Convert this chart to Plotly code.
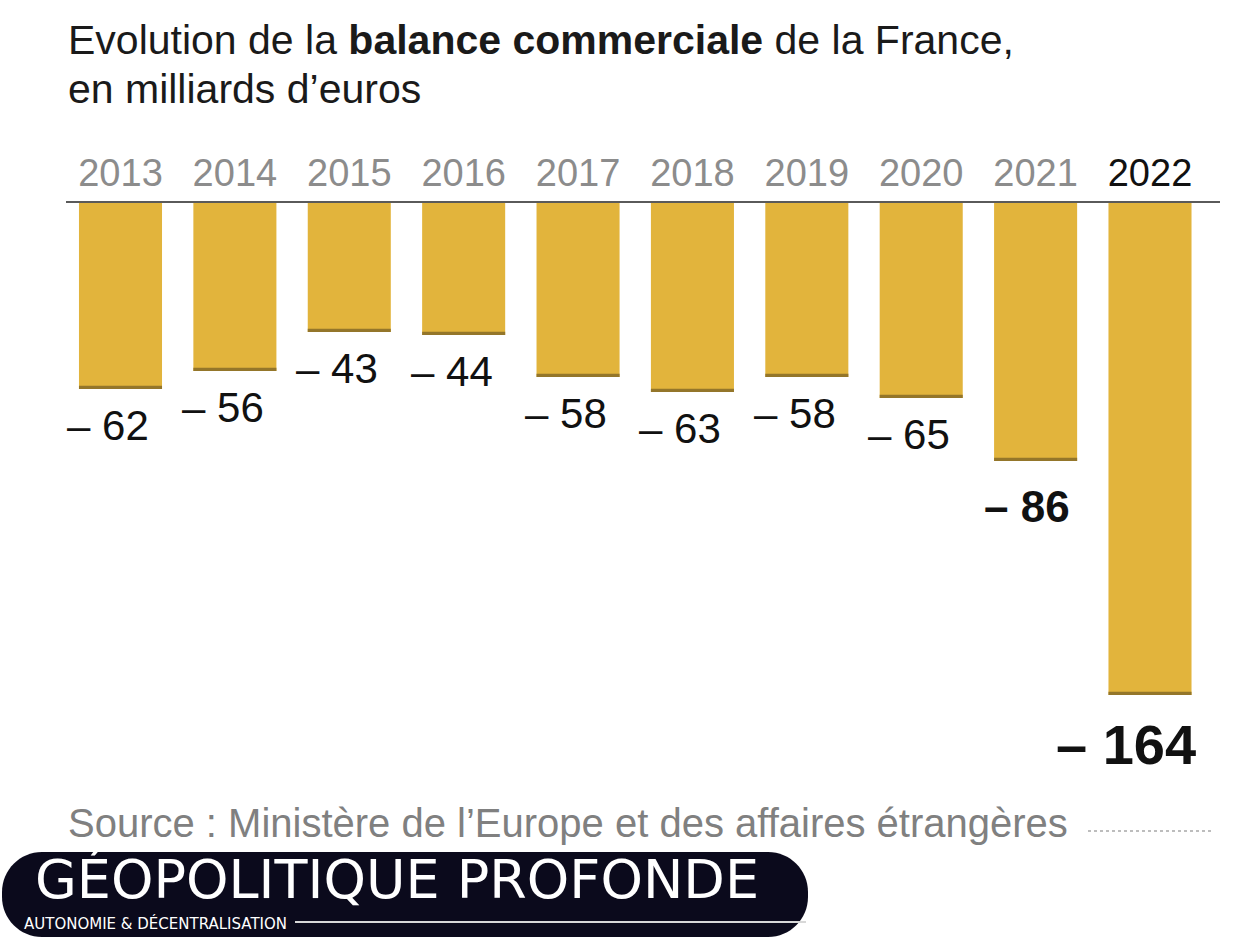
import plotly.graph_objects as go

years = ["2013", "2014", "2015", "2016", "2017", "2018", "2019", "2020", "2021", "2022"]
balance = [-62, -56, -43, -44, -58, -63, -58, -65, -86, -164]

W, H = 1251, 950
L, R, T, B = 66, 31, 203, 177
PW, PH = W - L - R, H - T - B


def px(xp):
    return (xp - L) / PW


def py(yp):
    return 1 - (yp - T) / PH


BAR = "#E2B43C"
EDGE = "#94762A"

fig = go.Figure()
fig.add_trace(go.Bar(x=years, y=balance, marker=dict(color=BAR, line=dict(width=0)),
                     width=0.726, hoverinfo="skip"))
fig.add_trace(go.Bar(x=years, y=[1.1] * len(years), base=balance,
                     marker=dict(color=EDGE, line=dict(width=0)),
                     width=0.726, hoverinfo="skip"))

ticktext = [f"<span style='color:#111111'>{y}</span>" if i == len(years) - 1 else y
            for i, y in enumerate(years)]

annotations = []
for i, v in enumerate(balance):
    strong = v < -80
    big = v < -120
    size = 56 if big else (44 if strong else 42)
    txt = f"\u2013 {abs(v)}"
    if strong:
        txt = f"<b>{txt}</b>"
    annotations.append(dict(
        x=i, y=v, xref="x", yref="y", text=txt, showarrow=False,
        xanchor="center", yanchor="middle",
        xshift=-24 if big else (-9 if strong else -12),
        yshift=-(49 if big else (45 if strong else 36)),
        font=dict(family="Liberation Sans, Arial, sans-serif", size=size, color="#111111"),
    ))

# Title
annotations.append(dict(
    x=px(66), y=py(40), xref="paper", yref="paper", xanchor="left", yanchor="middle",
    text="Evolution de la <b>balance commerciale</b> de la France,", showarrow=False,
    font=dict(family="Liberation Sans Narrow, Arial Narrow, sans-serif", size=41, color="#1a1a1a"),
))
annotations.append(dict(
    x=px(66), y=py(89), xref="paper", yref="paper", xanchor="left", yanchor="middle",
    text="en milliards d\u2019euros", showarrow=False,
    font=dict(family="Liberation Sans Narrow, Arial Narrow, sans-serif", size=41, color="#1a1a1a"),
))
# Source
annotations.append(dict(
    x=px(66), y=py(823), xref="paper", yref="paper", xanchor="left", yanchor="middle",
    text="Source : Minist\u00e8re de l\u2019Europe et des affaires \u00e9trang\u00e8res", showarrow=False,
    font=dict(family="Liberation Sans, Arial, sans-serif", size=40, color="#808080"),
))
# Logo texts
annotations.append(dict(
    x=px(33), y=py(913), xref="paper", yref="paper", xanchor="left", yanchor="bottom",
    text="G\u00c9OPOLITIQUE PROFONDE", showarrow=False,
    font=dict(family="DejaVu Sans, sans-serif", size=54, color="#ffffff"),
))
annotations.append(dict(
    x=px(22), y=py(912), xref="paper", yref="paper", xanchor="left", yanchor="top",
    text="AUTONOMIE & D\u00c9CENTRALISATION",
    showarrow=False,
    font=dict(family="DejaVu Sans, sans-serif", size=15, color="#ffffff"),
))

# Pill path (rounded rectangle) in paper coords
x0, x1, y0, y1, r = 2, 808, 852, 937, 40
k = 0.5523 * r
pts = [
    f"M {px(x0 + r)},{py(y0)}",
    f"L {px(x1 - r)},{py(y0)}",
    f"C {px(x1 - r + k)},{py(y0)} {px(x1)},{py(y0 + r - k)} {px(x1)},{py(y0 + r)}",
    f"L {px(x1)},{py(y1 - r)}",
    f"C {px(x1)},{py(y1 - r + k)} {px(x1 - r + k)},{py(y1)} {px(x1 - r)},{py(y1)}",
    f"L {px(x0 + r)},{py(y1)}",
    f"C {px(x0 + r - k)},{py(y1)} {px(x0)},{py(y1 - r + k)} {px(x0)},{py(y1 - r)}",
    f"L {px(x0)},{py(y0 + r)}",
    f"C {px(x0)},{py(y0 + r - k)} {px(x0 + r - k)},{py(y0)} {px(x0 + r)},{py(y0)}",
    "Z",
]
shapes = [
    dict(type="path", path=" ".join(pts), xref="paper", yref="paper",
         fillcolor="#0b0a1c", line=dict(width=0), layer="below"),
    dict(type="line", xref="paper", yref="paper", x0=px(295), x1=px(806), y0=py(922), y1=py(922),
         line=dict(color="#d8d8d8", width=2), layer="above"),
    dict(type="line", xref="paper", yref="paper", x0=px(1088), x1=px(1213), y0=py(831), y1=py(831),
         line=dict(color="#a8a8a8", width=1.5, dash="dot")),
]

fig.update_layout(
    width=W, height=H, margin=dict(l=L, r=R, t=T, b=B),
    paper_bgcolor="white", plot_bgcolor="rgba(0,0,0,0)",
    showlegend=False, barmode="overlay", bargap=0.274,
    annotations=annotations, shapes=shapes,
    xaxis=dict(type="category", side="top", range=[-0.4764, 9.612], showline=True,
               linecolor="#5a5a5a", linewidth=2, showgrid=False, zeroline=False,
               ticks="", tickvals=years, ticktext=ticktext, ticklabelstandoff=0,
               tickfont=dict(family="Liberation Sans, Arial, sans-serif", size=38, color="#8c8c8c"),
               fixedrange=True),
    yaxis=dict(range=[-190, 0], visible=True, showticklabels=False, showline=False,
               showgrid=False, zeroline=False, ticks="", fixedrange=True),
)

fig.write_html("out.html", config={"displayModeBar": False},
               post_script="document.body.style.margin='0';")
